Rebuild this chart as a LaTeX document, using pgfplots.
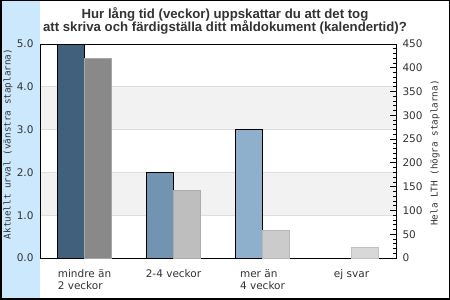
\documentclass[border=0pt]{standalone}
\usepackage{fontspec}
\setmainfont{DejaVu Sans}
\newfontfamily\titlefont{Liberation Sans}
\newfontfamily\monofont{DejaVu Sans Mono}
\usepackage{pgfplots}
\pgfplotsset{compat=1.18}
\definecolor{stripblue}{HTML}{CCE8FD}
\definecolor{band}{HTML}{F2F2F2}
\definecolor{gridc}{HTML}{DEDEDE}
\definecolor{cA}{HTML}{41607B}
\definecolor{cB}{HTML}{7394B0}
\definecolor{cC}{HTML}{8FB0CC}
\definecolor{gA}{HTML}{898989}
\definecolor{gB}{HTML}{BEBEBE}
\definecolor{gC}{HTML}{CBCBCB}
\definecolor{gD}{HTML}{D8D8D8}
\definecolor{txt}{HTML}{333333}
\begin{document}
\begin{tikzpicture}[x=1pt,y=1pt]
\useasboundingbox (0,0) rectangle (450,300);
\fill[white] (0,0) rectangle (450,300);
\fill[stripblue] (0,0) rectangle (40,300);
\node[font=\titlefont\bfseries\fontsize{13.2}{13.8}\selectfont, text=txt, align=center] at (225,279)
  {Hur lång tid (veckor) uppskattar du att det tog\\att skriva och färdigställa ditt måldokument (kalendertid)?};
\node[font=\monofont\fontsize{9.3}{11}\selectfont, text=txt, rotate=90] at (8,156) {Aktuellt urval (vänstra staplarna)};
\node[font=\monofont\fontsize{9.3}{11}\selectfont, text=txt, rotate=90] at (435,147) {Hela LTH (högra staplarna)};
\begin{axis}[at={(40pt,42pt)}, anchor=south west, scale only axis, width=356pt, height=214pt,
  xmin=-0.5, xmax=3.5, ymin=0, ymax=5,
  axis on top,
  axis line style={line width=1pt, black},
  xtick={0,1,2,3},
  xticklabels={{mindre än\\2 veckor},{2-4 veckor},{mer än\\4 veckor},{ej svar}},
  xticklabel style={align=left, anchor=north, yshift=-8pt, font=\fontsize{10.5}{12}\selectfont, text=txt},
  ytick={0,1,2,3,4,5},
  yticklabel style={font=\fontsize{10.5}{12}\selectfont, text=txt, xshift=-3pt},
  /pgf/number format/.cd, fixed, fixed zerofill, precision=1, assume math mode=true,
  /pgfplots/.cd,
  major tick length=0pt,
]
\fill[band] (axis cs:-0.5,1) rectangle (axis cs:3.5,2);
\fill[band] (axis cs:-0.5,3) rectangle (axis cs:3.5,4);
\draw[gridc, line width=1pt] (axis cs:-0.5,1) -- (axis cs:3.5,1);
\draw[gridc, line width=1pt] (axis cs:-0.5,2) -- (axis cs:3.5,2);
\draw[gridc, line width=1pt] (axis cs:-0.5,3) -- (axis cs:3.5,3);
\draw[gridc, line width=1pt] (axis cs:-0.5,4) -- (axis cs:3.5,4);
\addplot[ybar, bar width=27pt, bar shift=-13.5pt, fill=cA, draw=black, line width=1pt] coordinates {(0,5)};
\addplot[ybar, bar width=27pt, bar shift=-13.5pt, fill=cB, draw=black, line width=1pt] coordinates {(1,2)};
\addplot[ybar, bar width=27pt, bar shift=-13.5pt, fill=cC, draw=black, line width=1pt] coordinates {(2,3)};
\end{axis}
\begin{axis}[at={(40pt,42pt)}, anchor=south west, scale only axis, width=356pt, height=214pt,
  xmin=-0.5, xmax=3.5, ymin=0, ymax=450,
  axis x line=none, axis y line*=right,
  axis line style={line width=1pt, black},
  ytick distance=50, minor y tick num=4,
  tick align=inside,
  major tick length=6pt, minor tick length=3pt,
  tick style={black, line width=0.8pt},
  yticklabel style={font=\fontsize{10.5}{12}\selectfont, text=txt, anchor=west, xshift=3pt},
  /pgf/number format/assume math mode=true,
]
\addplot[ybar, bar width=27pt, bar shift=13.5pt, fill=gA, draw=gA!75!white, line width=0.8pt] coordinates {(0,420)};
\addplot[ybar, bar width=27pt, bar shift=13.5pt, fill=gB, draw=gB!90!black, line width=0.8pt] coordinates {(1,143)};
\addplot[ybar, bar width=27pt, bar shift=13.5pt, fill=gC, draw=gC!90!black, line width=0.8pt] coordinates {(2,59)};
\addplot[ybar, bar width=27pt, bar shift=13.5pt, fill=gD, draw=gD!90!black, line width=0.8pt] coordinates {(3,22)};
\end{axis}
\draw[black, line width=1.5pt] (0.75,0.75) rectangle (449.25,299.25);
\end{tikzpicture}
\end{document}
